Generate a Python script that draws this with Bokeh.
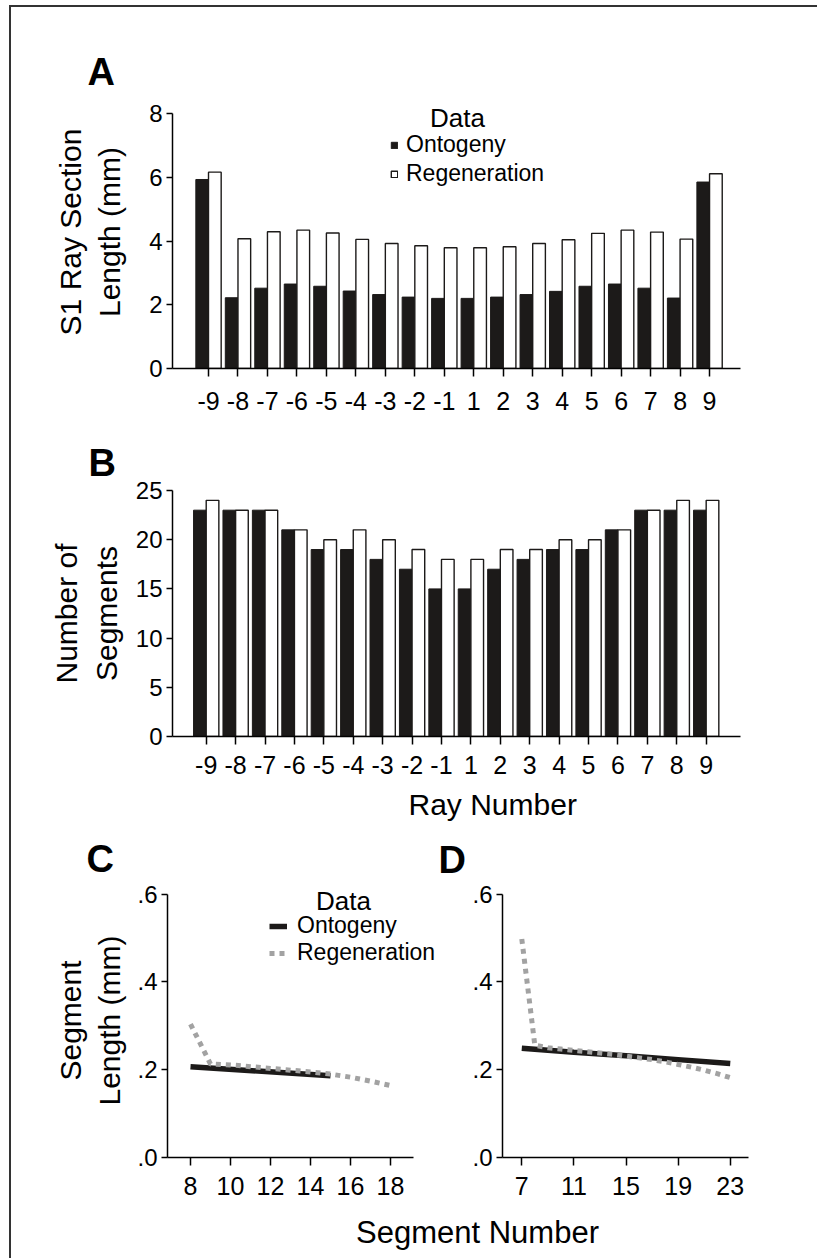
from bokeh.plotting import figure
from bokeh.models import (Range1d, FixedTicker, Label, Legend, LegendItem, Title,
                          CustomJSTickFormatter, ColumnDataSource)
from bokeh.layouts import column, row
from bokeh.embed import file_html
from bokeh.resources import INLINE

FONT = "Liberation Sans"

# ---------------- data ----------------
rays = [-9, -8, -7, -6, -5, -4, -3, -2, -1, 1, 2, 3, 4, 5, 6, 7, 8, 9]
section_ontogeny = [5.93, 2.22, 2.52, 2.65, 2.58, 2.43, 2.32, 2.24, 2.20,
                    2.20, 2.24, 2.32, 2.42, 2.58, 2.65, 2.52, 2.21, 5.85]
section_regeneration = [6.16, 4.07, 4.29, 4.34, 4.25, 4.05, 3.92, 3.85, 3.79,
                        3.79, 3.82, 3.92, 4.04, 4.24, 4.34, 4.28, 4.06, 6.11]
segments_ontogeny = [23, 23, 23, 21, 19, 19, 18, 17, 15, 15, 17, 18, 19, 19, 21, 23, 23, 23]
segments_regeneration = [24, 23, 23, 21, 20, 21, 20, 19, 18, 18, 19, 19, 20, 20, 21, 23, 24, 24]

c_ont_x = [8, 15]
c_ont_y = [0.207, 0.186]
c_reg_x = [8, 9, 10, 11, 12, 13, 14, 15, 16, 17, 18]
c_reg_y = [0.304, 0.213, 0.211, 0.207, 0.203, 0.199, 0.195, 0.190, 0.183, 0.174, 0.164]

d_ont_x = [7, 11, 15, 19, 23]
d_ont_y = [0.249, 0.240, 0.232, 0.223, 0.214]
d_reg_x = list(range(7, 24))
d_reg_y = [0.498, 0.256, 0.250, 0.247, 0.244, 0.241, 0.238, 0.235, 0.231,
           0.227, 0.223, 0.218, 0.212, 0.206, 0.199, 0.191, 0.182]

ray_ticks_a = [0, 2, 4, 6, 8]
ray_ticks_b = [0, 5, 10, 15, 20, 25]
seg_ticks_y = [0, 0.2, 0.4, 0.6]
c_ticks_x = [8, 10, 12, 14, 16, 18]
d_ticks_x = [7, 11, 15, 19, 23]

BLACK = "#1c1a19"
GRAY = "#a2a2a2"


def base(width, height, xr, yr, bl, br, bt, bb):
    p = figure(width=width, height=height, x_range=Range1d(*xr), y_range=Range1d(*yr),
               output_backend="svg", toolbar_location=None,
               min_border_left=bl, min_border_right=br, min_border_top=bt, min_border_bottom=bb)
    p.grid.visible = False
    p.outline_line_color = None
    p.background_fill_color = None
    p.border_fill_color = None
    for ax in (p.xaxis[0], p.yaxis[0]):
        ax.axis_line_color = "black"
        ax.axis_line_width = 1.5
        ax.major_tick_line_color = "black"
        ax.major_tick_line_width = 1.5
        ax.minor_tick_line_color = None
        ax.major_tick_in = 0
        ax.major_label_text_font = FONT
        ax.major_label_text_color = "black"
        ax.axis_label_text_font = FONT
        ax.axis_label_text_font_style = "normal"
        ax.axis_label_text_color = "black"
        ax.axis_label_text_font_size = "30px"
    p.xaxis.major_tick_out = 8
    p.xaxis.major_label_standoff = 11
    p.xaxis.major_label_text_font_size = "25px"
    p.yaxis.major_tick_out = 6
    p.yaxis.major_label_standoff = 4
    p.yaxis.major_label_text_font_size = "24px"
    return p


def letter(p, t, offset, standoff):
    p.add_layout(Title(text=t, align="left", offset=offset, standoff=standoff,
                       text_font=FONT, text_font_size="38px", text_font_style="bold",
                       text_color="black"), "above")


idx = list(range(len(rays)))
ray_labels = {i: str(r) for i, r in zip(idx, rays)}
W = 0.43
OFF = 0.215

# ---------------- Panel A ----------------
pA = base(817, 420, (-1.2216, 18.05), (0, 8.565), 172, 77, 95, 52)
srcA = ColumnDataSource(dict(xo=[i - OFF for i in idx], xr=[i + OFF for i in idx],
                             ont=section_ontogeny, reg=section_regeneration))
ra1 = pA.vbar(x="xo", top="ont", width=W, source=srcA, fill_color=BLACK, line_color=BLACK, line_width=1)
ra2 = pA.vbar(x="xr", top="reg", width=W, source=srcA, fill_color="white", line_color=BLACK, line_width=1.4)
pA.xaxis.ticker = FixedTicker(ticks=idx)
pA.xaxis.major_label_overrides = ray_labels
pA.xaxis.major_label_standoff = 15
pA.yaxis.ticker = FixedTicker(ticks=ray_ticks_a)
pA.yaxis.bounds = (0, 8)
pA.yaxis.axis_label = "S1 Ray Section\nLength (mm)"
pA.yaxis.axis_label_standoff = 20
legA = Legend(items=[LegendItem(label="Ontogeny", renderers=[ra1]),
                     LegendItem(label="Regeneration", renderers=[ra2])],
              location=(218, 181), orientation="vertical",
              label_text_font=FONT, label_text_font_size="23px", label_text_color="black",
              glyph_width=8, glyph_height=8, label_standoff=8, padding=0, margin=0,
              spacing=2, label_height=26, border_line_color=None, background_fill_alpha=0)
pA.add_layout(legA)
pA.add_layout(Label(x=8.45, y=7.87, text="Data", text_font=FONT, text_font_size="26px",
                    text_align="center", text_baseline="middle", text_color="black"))
letter(pA, "A", -85, 5)

# ---------------- Panel B ----------------
pB = base(817, 410, (-1.146, 18.167), (0, 25), 172, 77, 70, 91)
srcB = ColumnDataSource(dict(xo=[i - OFF for i in idx], xr=[i + OFF for i in idx],
                             ont=segments_ontogeny, reg=segments_regeneration))
pB.vbar(x="xo", top="ont", width=W, source=srcB, fill_color=BLACK, line_color=BLACK, line_width=1)
pB.vbar(x="xr", top="reg", width=W, source=srcB, fill_color="white", line_color=BLACK, line_width=1.4)
pB.xaxis.ticker = FixedTicker(ticks=idx)
pB.xaxis.major_label_overrides = ray_labels
pB.yaxis.ticker = FixedTicker(ticks=ray_ticks_b)
pB.yaxis.axis_label = "Number of\nSegments"
pB.yaxis.axis_label_standoff = 10
pB.add_layout(Title(text="Ray Number", align="left", offset=236, standoff=19,
                    text_font=FONT, text_font_size="30px", text_font_style="normal",
                    text_color="black"), "below")
letter(pB, "B", -84, 13)

fmt = CustomJSTickFormatter(code="return tick.toFixed(1).replace(/^0/, '');")

# ---------------- Panel C ----------------
pC = base(438, 380, (6.85, 20.4), (0, 0.6243), 167, 0, 53, 53)
rc1 = pC.line(c_ont_x, c_ont_y, line_color=BLACK, line_width=5.5)
rc2 = pC.line(c_reg_x, c_reg_y, line_color=GRAY, line_width=5, line_dash="5 5")
pC.xaxis.ticker = FixedTicker(ticks=c_ticks_x)
pC.xaxis.bounds = (6.85, 19.15)
pC.yaxis.ticker = FixedTicker(ticks=seg_ticks_y)
pC.yaxis.bounds = (0, 0.6)
pC.yaxis.formatter = fmt
pC.yaxis.axis_label = "Segment\nLength (mm)"
pC.yaxis.axis_label_standoff = 8
legC = Legend(items=[LegendItem(label="Ontogeny", renderers=[rc1]),
                     LegendItem(label="Regeneration", renderers=[rc2])],
              location=(102, 191), orientation="vertical",
              label_text_font=FONT, label_text_font_size="23px", label_text_color="black",
              glyph_width=18, glyph_height=20, label_standoff=10, padding=0, margin=0,
              spacing=0, label_height=26, border_line_color=None, background_fill_alpha=0)
pC.add_layout(legC)
pC.add_layout(Label(x=15.65, y=0.585, text="Data", text_font=FONT, text_font_size="26px",
                    text_align="center", text_baseline="middle", text_color="black"))
letter(pC, "C", -81, 8)

# ---------------- Panel D ----------------
pD = base(379, 380, (5.52, 24.40), (0, 0.6243), 64, 69, 53, 53)
pD.line(d_ont_x, d_ont_y, line_color=BLACK, line_width=5.5)
pD.line(d_reg_x, d_reg_y, line_color=GRAY, line_width=5, line_dash="5 5")
pD.xaxis.ticker = FixedTicker(ticks=d_ticks_x)
pD.yaxis.ticker = FixedTicker(ticks=seg_ticks_y)
pD.yaxis.bounds = (0, 0.6)
pD.yaxis.formatter = fmt
letter(pD, "D", -64, 6)

# ---------------- shared x title ----------------
pX = figure(width=817, height=48, x_range=Range1d(172, 740), y_range=Range1d(0, 48),
            output_backend="svg", toolbar_location=None, x_axis_type=None, y_axis_type=None,
            min_border_left=172, min_border_right=77, min_border_top=0, min_border_bottom=0)
pX.grid.visible = False
pX.outline_line_color = None
pX.background_fill_color = None
pX.border_fill_color = None
pX.add_layout(Label(x=477, y=26, text="Segment Number", text_font=FONT, text_font_size="31px",
                    text_align="center", text_baseline="middle", text_color="black"))

layout = column(pA, pB, row(pC, pD), pX,
                styles={"background": "linear-gradient(#333,#333) 9px 5px / 808px 2px no-repeat, "
                                      "linear-gradient(#333,#333) 9px 5px / 2px 1253px no-repeat, white"})

open("out.html", "w").write(file_html(layout, INLINE))
